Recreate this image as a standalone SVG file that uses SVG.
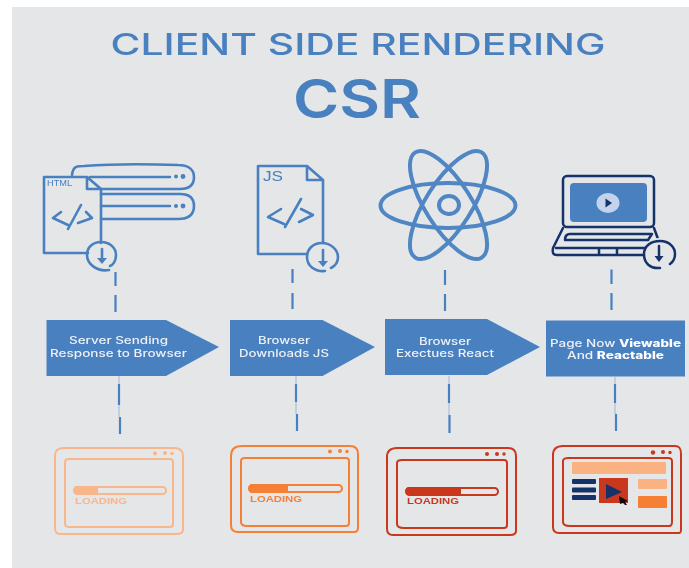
<svg xmlns="http://www.w3.org/2000/svg" width="689" height="568" viewBox="0 0 689 568">
<defs><filter id="soft" x="-2%" y="-2%" width="104%" height="104%"><feGaussianBlur stdDeviation="0.4"/></filter></defs>
<style>
.title{fill:#4a80c0;font-family:"Inter","Liberation Sans",sans-serif;text-anchor:middle}
.lab{fill:#eef1f6;font-family:"Inter","Liberation Sans",sans-serif;font-size:10px;font-weight:500;text-anchor:middle}
.lab .b{font-weight:800;fill:#fff}
.blue{fill:none;stroke:#4a80c0;stroke-width:2.600;stroke-linecap:round;stroke-linejoin:round}
.navy{fill:none;stroke:#15306b;stroke-width:2.500;stroke-linecap:round;stroke-linejoin:round}
.dash{stroke:#4a80c0;stroke-width:2.200;fill:none}
.thin{stroke:#9db8d8;stroke-width:1;fill:none}
.arrow{fill:#4a80c0}
.w{fill:none;stroke-width:2;stroke-linejoin:round;stroke-linecap:round}
.load{font-family:"Liberation Sans",sans-serif;font-size:9.500px;font-weight:700;stroke:none}
</style>
<rect width="689" height="568" fill="#fff"/>
<rect x="12" y="7" width="677" height="561" fill="#e4e6e8"/>
<g filter="url(#soft)">
<g id="title">
<text class="title" x="358" y="55" font-size="30" font-weight="500" textLength="495" lengthAdjust="spacingAndGlyphs">CLIENT SIDE RENDERING</text>
<text class="title" x="357" y="118" font-size="54" font-weight="600" textLength="128" lengthAdjust="spacingAndGlyphs">CSR</text>
</g>
<g id="connectors">
<path class="dash" d="M115.500 272V286M115.500 295V312"/>
<path class="dash" d="M292.500 269V283M292.500 293V309"/>
<path class="dash" d="M445 270V285M445 294V311"/>
<path class="dash" d="M611.500 269.500V284M611.500 293V310"/>
<path class="thin" d="M119 376V384M119 405V417"/><path class="dash" d="M119 384V405M120 417V434"/>
<path class="thin" d="M296 376V384M296 402V414"/><path class="dash" d="M296 384V402M297 414V431"/>
<path class="thin" d="M449 376V384M449 403V415"/><path class="dash" d="M449 384V403M449.500 415V433"/>
<path class="thin" d="M615 377V384M615 403V414"/><path class="dash" d="M615 384V403M616 414V431"/>
</g>
<g id="html-file">
<path class="blue" d="M72 175C73 166 77 166 84 166C110 164 150 164 178 165C190 165 194 171 194 177C194 184 190 189 180 189H101"/>
<path class="blue" d="M90 177H170M101 194H180C190 194 194 199 194 206C194 214 190 219 178 219H101M101 206H170"/>
<circle cx="176" cy="176.500" r="2" fill="#4a80c0"/><circle cx="183" cy="176.500" r="2.400" fill="#4a80c0"/>
<circle cx="176" cy="206" r="2" fill="#4a80c0"/><circle cx="183" cy="206" r="2.400" fill="#4a80c0"/>
<path class="blue" d="M87 177H44V253H88M101 189V243M87 177L101 189H87Z"/>
<path class="blue" d="M61 212L53 218L68 225M81 205L68 229M86 212L92 218L78 223"/>
<text x="47" y="186" font-family="Liberation Sans,sans-serif" font-size="9" fill="#4a80c0" textLength="25" lengthAdjust="spacingAndGlyphs">HTML</text>
<path class="blue" d="M109 270C97 272 87 264 87 255C87 247 93 242 101 242C110 242 116 248 116 255C116 261 113 265 110 266"/>
<path class="blue" d="M102 249V260"/><path d="M97 258H107L102 264Z" fill="#4a80c0"/>
</g>
<g id="js-file">
<path class="blue" d="M307 166H258V254H307M323 180V243M307 166L323 180H307Z"/>
<path class="blue" d="M281 209L268 217L284 224M301 199L285 227M301 209L313 215L299 222"/>
<text x="263" y="181" font-family="Liberation Sans,sans-serif" font-size="14" fill="#4a80c0" textLength="20" lengthAdjust="spacingAndGlyphs">JS</text>
<path class="blue" d="M325 271C315 272 307 266 307 257C307 249 313 243 322 243C331 243 338 250 338 257C338 262 335 266 331 268"/>
<path class="blue" d="M323 250V264"/><path d="M318 261H328L323 267Z" fill="#4a80c0"/>
</g>
<g id="react-atom">
<g fill="none" stroke="#4f86c3" stroke-width="4">
<ellipse cx="448" cy="205.500" rx="67.500" ry="22.500"/>
<ellipse cx="448.500" cy="205" rx="62.200" ry="23" transform="rotate(57.700 448.500 205)"/>
<ellipse cx="448.500" cy="205" rx="62.200" ry="23" transform="rotate(-57.700 448.500 205)"/>
<ellipse cx="449" cy="205" rx="10" ry="9"/>
</g>
</g>
<g id="laptop">
<rect x="563" y="176" width="91" height="51" rx="4" class="navy"/>
<rect x="570" y="183" width="77" height="39" rx="4" fill="#4a80c0"/>
<ellipse cx="608" cy="203" rx="11.500" ry="10" fill="#c3d3ec"/>
<path d="M605.500 198.500L612 203L605.500 207.500Z" fill="#15306b"/>
<path class="navy" d="M563 228L553 248C552 253 553 255 557 255H651M654 228L658 239M652 234H570C566 234 565 237 565 240H648L652 234M556 248H648M599 249V254M617 249V254"/>
<circle cx="659" cy="253" r="15" fill="#e4e6e8"/>
<path class="navy" d="M660 268C650 269 644 263 644 254C644 246 651 241 660 241C669 241 675 247 675 254C675 259 673 262 670 264"/>
<path class="navy" d="M659 246V259"/><path d="M654.500 256H663.500L659 262Z" fill="#15306b"/>
</g>
<g id="step-1"><path class="arrow" d="M46.500 320H166L219 347L166 376H46.500Z"/><text class="lab" x="118.500" y="344" textLength="99" lengthAdjust="spacingAndGlyphs">Server Sending</text><text class="lab" x="118.500" y="357" textLength="137" lengthAdjust="spacingAndGlyphs">Response to Browser</text></g>
<g id="step-2"><path class="arrow" d="M230 320H322.500L375 347L322.500 376H230Z"/><text class="lab" x="284" y="344" textLength="52" lengthAdjust="spacingAndGlyphs">Browser</text><text class="lab" x="284" y="357" textLength="90" lengthAdjust="spacingAndGlyphs">Downloads JS</text></g>
<g id="step-3"><path class="arrow" d="M385 319H487L540 347L487 375H385Z"/><text class="lab" x="445" y="345" textLength="52" lengthAdjust="spacingAndGlyphs">Browser</text><text class="lab" x="445" y="357" textLength="98" lengthAdjust="spacingAndGlyphs">Exectues React</text></g>
<g id="step-4"><rect class="arrow" x="546" y="320.500" width="139" height="56"/><text class="lab" x="615.500" y="347" textLength="131" lengthAdjust="spacingAndGlyphs">Page Now <tspan class="b">Viewable</tspan></text><text class="lab" x="615.500" y="359" textLength="97" lengthAdjust="spacingAndGlyphs">And <tspan class="b">Reactable</tspan></text></g>
<g id="browser-1" stroke="#f9b68a" fill="#f9b68a">
<path class="w" d="M55 456C55 450 58 448 64 448H174C180 448 183 451 183 456V530C183 533 181 534 176 534H62C57 534 55 533 55 528Z"/>
<path class="w" d="M65 462C65 460 67 459 69 459H170C172 459 173 460 173 462V524C173 526 172 527 170 527H70C67 527 65 526 65 524Z"/>
<rect x="74" y="487" width="92" height="7" rx="3.500" fill="#e4e6e8" stroke-width="2"/>
<path d="M77 486H98V494H77C72 494 72 486 77 486Z" stroke="none"/>
<circle cx="155" cy="453.500" r="2" stroke="none"/><circle cx="165" cy="453" r="2" stroke="none"/><circle cx="172" cy="453.500" r="1.700" stroke="none"/>
<text class="load" x="75" y="504" textLength="52" lengthAdjust="spacingAndGlyphs">LOADING</text>
</g>
<g id="browser-2" stroke="#f57f36" fill="#f57f36">
<path class="w" d="M231 456C231 449 235 446 242 446H350C356 446 358 449 358 454V528C358 531 357 532 354 532H238C233 532 231 530 231 525Z"/>
<path class="w" d="M241 461C241 459 243 458 245 458H346C348 458 349 459 349 461V523C349 525 348 526 346 526H247C243 526 241 525 241 522Z"/>
<rect x="249" y="485" width="93" height="7" rx="3.500" fill="#e4e6e8" stroke-width="2"/>
<path d="M252 484H288V493H252C247 493 247 484 252 484Z" stroke="none"/>
<circle cx="330" cy="451.500" r="2" stroke="none"/><circle cx="340" cy="451" r="2" stroke="none"/><circle cx="347" cy="451.500" r="1.700" stroke="none"/>
<text class="load" x="250" y="502" textLength="52" lengthAdjust="spacingAndGlyphs">LOADING</text>
</g>
<g id="browser-3" stroke="#c9371c" fill="#c9371c">
<path class="w" d="M387 457C387 451 391 448 397 448H508C513 448 516 451 516 456V531C516 534 514 535 510 535H393C389 535 387 533 387 529Z"/>
<path class="w" d="M397 463C397 461 399 460 402 460H504C506 460 507 461 507 463V525C507 527 506 528 504 528H404C400 528 397 527 397 524Z"/>
<rect x="406" y="488" width="92" height="7" rx="3.500" fill="#e4e6e8" stroke-width="2"/>
<path d="M409 487H461V495H409C404 495 404 487 409 487Z" stroke="none"/>
<circle cx="487" cy="454" r="2" stroke="none"/><circle cx="497" cy="454" r="2" stroke="none"/><circle cx="504" cy="454" r="1.700" stroke="none"/>
<text class="load" x="407" y="504" textLength="52" lengthAdjust="spacingAndGlyphs">LOADING</text>
</g>
<g id="browser-4">
<g stroke="#c9371c" fill="#c9371c">
<path class="w" d="M553 455C553 449 557 446 563 446H675C680 446 681 449 681 454V530C681 533 680 533 677 533H559C555 533 553 531 553 527Z"/>
<path class="w" d="M563 461C563 459 566 458 568 458H668C671 458 672 459 672 461V522C672 525 671 526 669 526H570C566 526 563 525 563 522Z"/>
<circle cx="653" cy="452.500" r="2.200" stroke="none"/><circle cx="663" cy="452" r="2" stroke="none"/><circle cx="670" cy="452.500" r="1.700" stroke="none"/>
</g>
<rect x="572" y="462" width="94" height="12" rx="1" fill="#fab283"/>
<rect x="572" y="479" width="24" height="5" rx="1" fill="#15306b"/><rect x="572" y="487.500" width="24" height="5" rx="1" fill="#15306b"/><rect x="572" y="495" width="24" height="5" rx="1" fill="#15306b"/>
<rect x="599" y="478" width="29" height="25" fill="#c9371c"/>
<path d="M606 484L622 492L606 499Z" fill="#15306b"/>
<path d="M619 496L628 501L625 502L627 505L625 505L623 503L620 504Z" fill="#111"/>
<rect x="638" y="479" width="29" height="10" rx="1" fill="#fab283"/>
<rect x="638" y="496" width="29" height="12" rx="1" fill="#f57f36"/>
</g>
</g>
</svg>
